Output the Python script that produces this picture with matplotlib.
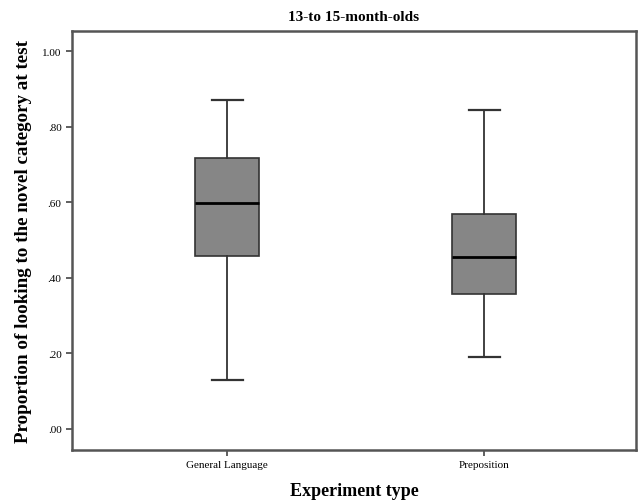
import matplotlib
matplotlib.use("Agg")
import matplotlib.pyplot as plt

groups = ["General Language", "Preposition"]
whisker_low = [0.13, 0.19]
q1 = [0.457, 0.356]
median = [0.598, 0.456]
q3 = [0.717, 0.568]
whisker_high = [0.871, 0.845]

y_ticks = [0.0, 0.2, 0.4, 0.6, 0.8, 1.0]
y_tick_labels = [".00", ".20", ".40", ".60", ".80", "1.00"]

plt.rcParams.update({"font.family": "Liberation Serif"})
fig = plt.figure(figsize=(6.38, 5.02), dpi=100)
ax = fig.add_axes([72 / 638, 51 / 502, 564 / 638, 419 / 502])

stats = [dict(label=g, whislo=lo, q1=a, med=m, q3=b, whishi=hi, fliers=[])
         for g, lo, a, m, b, hi in zip(groups, whisker_low, q1, median, q3, whisker_high)]
ax.bxp(stats, positions=[1, 2], widths=0.25, patch_artist=True, showfliers=False,
       boxprops=dict(facecolor="#868686", edgecolor="#333333", linewidth=1.2),
       medianprops=dict(color="black", linewidth=2),
       whiskerprops=dict(color="#333333", linewidth=1.3),
       capprops=dict(color="#333333", linewidth=1.6),
       capwidths=0.12)

ax.set_xlim(0.397, 2.59)
ax.set_ylim(-0.056, 1.053)
ax.set_yticks(y_ticks)
ax.set_yticklabels(y_tick_labels, fontsize=8)
ax.set_xticks([1, 2])
ax.set_xticklabels(groups, fontsize=8)
ax.tick_params(length=4, width=1.2, color="#444444")
for s in ax.spines.values():
    s.set_color("#555555")
    s.set_linewidth(1.8)

ax.set_title("13-to 15-month-olds", fontsize=11, fontweight="bold", pad=8)
ax.set_xlabel("Experiment type", fontsize=13, fontweight="bold", labelpad=9)
ax.set_ylabel("Proportion of looking to the novel category at test", fontsize=13.7,
              fontweight="bold", labelpad=7)

fig.savefig("out.png", dpi=100)
